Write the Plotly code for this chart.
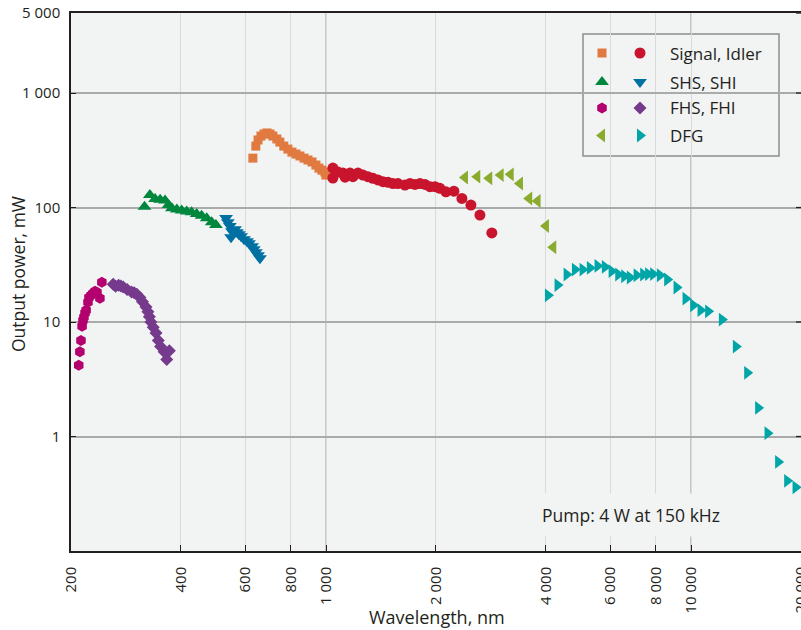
import math
import plotly.graph_objects as go

# ---------------- data (wavelength nm, output power mW) ----------------
fhs_wl = [210, 211.5, 213, 214.5, 215.7, 217, 218.5, 220, 222.6, 224, 227, 229.8, 232.7, 235.6, 240, 243]
fhs_mw = [4.2, 5.5, 6.9, 9.2, 10.3, 11.0, 12.0, 12.7, 14.9, 16.4, 17.1, 17.8, 18.6, 18.2, 16.1, 22.2]

fhi_wl = [261, 265, 270, 274, 278, 285, 293, 298, 303, 309, 314, 321, 325, 328, 331, 336, 342, 347, 352, 360, 366, 372]
fhi_mw = [21.4, 20.5, 20.9, 20.6, 20.2, 19.2, 18.3, 18.0, 17.5, 16.4, 15.0, 13.5, 12.3, 11.1, 10.0, 9.0, 8.0, 6.9, 6.1, 5.5, 4.7, 5.6]

shs_wl = [318, 329, 340, 351, 362, 370, 378, 390, 402, 415, 428, 442, 456, 471, 486, 499]
shs_mw = [101.8, 128.9, 118.9, 117.2, 114.9, 105.4, 98.4, 95.9, 94.0, 92.1, 90.8, 87.9, 84.9, 80.4, 74.2, 70.2]

shi_wl = [532, 538, 545, 552, 549, 563, 570, 577, 585, 596, 607, 615, 627, 634, 642, 651, 659]
shi_mw = [80.8, 74.5, 68.8, 62.2, 55.1, 64.7, 60.9, 58.5, 56.2, 52.9, 50.8, 48.8, 45.9, 43.3, 40.7, 38.3, 36.1]

sig_wl = [630, 642, 651, 663, 676, 689, 702, 715, 733, 747, 766, 786, 806, 827, 848, 870, 892, 915, 938, 956, 974, 993, 999]
sig_mw = [270, 344, 389, 421, 439, 448, 439, 421, 397, 373, 344, 324, 305, 293, 282, 270, 260, 250, 235, 221, 212, 204, 192]

idl_wl = [1044, 1044, 1078, 1112, 1127, 1163, 1185, 1223, 1262, 1302, 1344, 1387, 1432, 1478, 1525, 1574,
          1645, 1698, 1752, 1808, 1866, 1926, 1988, 2051, 2130, 2240, 2356, 2494, 2640, 2846]
idl_mw = [221, 181, 204, 200, 184, 200, 186, 200, 192, 186, 180, 174, 168, 166, 162, 162,
          157, 162, 159, 162, 159, 152, 152, 147, 137, 139, 120, 105, 86, 60]

dfgl_wl = [2402, 2596, 2800, 3008, 3205, 3398, 3602, 3798, 4004, 4193]
dfgl_mw = [183, 186, 180, 192, 195, 162, 120, 114, 69, 45]

dfgr_wl = [4055, 4309, 4562, 4808, 5046, 5284, 5546, 5808, 6060, 6318, 6562, 6801, 7095, 7396, 7631, 7876,
           8218, 8605, 9129, 9662, 10140, 10622, 11143, 12152, 13274, 14255, 15276, 16210, 17330, 18346, 19344]
dfgr_mw = [17.1, 21.0, 26.0, 28.7, 28.7, 29.7, 30.9, 30.3, 27.8, 26.0, 25.1, 24.5, 25.6, 26.0, 26.2, 26.2,
           25.6, 23.5, 20.0, 16.0, 14.0, 12.7, 12.4, 10.5, 6.1, 3.6, 1.78, 1.07, 0.60, 0.41, 0.36]

x_tickvals = [200, 400, 600, 800, 1000, 2000, 4000, 6000, 8000, 10000, 20000]
x_ticktext = ["200", "400", "600", "800", "1 000", "2 000", "4 000", "6 000", "8 000", "10 000", "20 000"]
y_tickvals = [1, 10, 100, 1000, 5000]
y_ticktext = ["1", "10", "100", "1 000", "5 000"]

legend_rows = ["Signal, Idler", "SHS, SHI", "FHS, FHI", "DFG"]

# ---------------- style / layout ----------------
FONT = "Open Sans, Lato, sans-serif"
TXT = "#231f20"
BG = "#f2f3f3"
W, H = 801, 630
PL, PT, PW, PH = 71, 13, 730, 538
XR = [math.log10(200), math.log10(20000) + 0.0004]
YR = [-1, math.log10(5000)]


def fx(px):
    return (px - PL) / PW


def fy(py):
    return (PT + PH - py) / PH


def px_to_x(px):  # legend glyph placement on the log axis
    return 10 ** (XR[0] + fx(px) * (XR[1] - XR[0]))


def py_to_y(py):
    return 10 ** (YR[0] + fy(py) * (YR[1] - YR[0]))


series = [
    (sig_wl, sig_mw, "square", 9, "#e07a40"),
    (idl_wl, idl_mw, "circle", 11, "#c8142c"),
    (shs_wl, shs_mw, "triangle-up", 12, "#00873e"),
    (shi_wl, shi_mw, "triangle-down", 12, "#0070a3"),
    (fhs_wl, fhs_mw, "hexagon", 11, "#b3006e"),
    (fhi_wl, fhi_mw, "diamond", 10, "#763a8d"),
    (dfgl_wl, dfgl_mw, "triangle-left", 12, "#8aab2e"),
    (dfgr_wl, dfgr_mw, "triangle-right", 12, "#00a5a8"),
]

fig = go.Figure()
for wl, mw, sym, sz, col in series:
    fig.add_trace(go.Scatter(x=wl, y=mw, mode="markers",
                             marker=dict(symbol=sym, size=sz, color=col, line=dict(width=0)),
                             showlegend=False))

# legend (drawn manually: two marker columns + text)
LEG_COL_PX = [602, 640]
LEG_ROW_PX = [53, 82, 108, 135.5]
for i, (wl, mw, sym, sz, col) in enumerate(series):
    r, c = divmod(i, 2)
    fig.add_trace(go.Scatter(x=[px_to_x(LEG_COL_PX[c])], y=[py_to_y(LEG_ROW_PX[r])], mode="markers",
                             hoverinfo="skip",
                             marker=dict(symbol=sym, size=sz, color=col, line=dict(width=0)),
                             showlegend=False))

shapes = []
for xv in [1000, 10000]:
    shapes.append(dict(type="line", xref="x", yref="paper", x0=xv, x1=xv, y0=0, y1=1,
                       line=dict(color="#b9bbbb", width=1.6), layer="between"))
shapes.append(dict(type="rect", xref="paper", yref="paper",
                   x0=fx(583), x1=fx(779), y0=fy(156), y1=fy(34),
                   fillcolor=BG, line=dict(color="#8d8d8d", width=1.5), layer="between"))
# right-hand tick marks (the frame's right edge sits at the page edge)
for yv in y_tickvals:
    shapes.append(dict(type="line", xref="paper", yref="y", x0=fx(796), x1=fx(801), y0=yv, y1=yv,
                       line=dict(color=TXT, width=1.3), layer="above"))

annotations = []
for r, label in enumerate(legend_rows):
    annotations.append(dict(text=label, xref="paper", yref="paper", x=fx(668), y=fy(LEG_ROW_PX[r]),
                            xanchor="left", yanchor="middle", showarrow=False,
                            font=dict(family=FONT, size=17, color=TXT)))
annotations.append(dict(text="Pump: 4 W at 150 kHz", xref="paper", yref="paper", x=fx(532), y=fy(515),
                        xanchor="left", yanchor="middle", showarrow=False, bgcolor=BG, borderpad=9,
                        font=dict(family=FONT, size=17.5, color=TXT)))
annotations.append(dict(text="Output power, mW", xref="paper", yref="paper", x=fx(18), y=fy(274),
                        xanchor="center", yanchor="middle", textangle=-90, showarrow=False,
                        font=dict(family=FONT, size=17.5, color=TXT)))
annotations.append(dict(text="Wavelength, nm", xref="paper", yref="paper", x=fx(437), y=fy(617),
                        xanchor="center", yanchor="middle", showarrow=False,
                        font=dict(family=FONT, size=18, color=TXT)))

fig.update_layout(
    width=W, height=H,
    margin=dict(l=PL, r=W - PL - PW, t=PT, b=H - PT - PH, pad=0, autoexpand=False),
    paper_bgcolor="white", plot_bgcolor=BG,
    font=dict(family=FONT, color=TXT, size=15),
    shapes=shapes, annotations=annotations,
    xaxis=dict(type="log", range=XR, automargin=False,
               tickvals=x_tickvals, ticktext=x_ticktext, tickangle=-90,
               ticks="inside", ticklen=6, tickwidth=1.3, tickcolor=TXT,
               showline=True, linecolor=TXT, linewidth=1.5, mirror=True,
               showgrid=True, gridcolor="#d9dbdb", gridwidth=1.4, zeroline=False,
               tickfont=dict(size=15, color=TXT), ticklabelstandoff=8,
               ticklabeloverflow="allow"),
    yaxis=dict(type="log", range=YR, automargin=False,
               tickvals=y_tickvals, ticktext=y_ticktext,
               ticks="inside", ticklen=5, tickwidth=1.3, tickcolor=TXT,
               showline=True, linecolor=TXT, linewidth=1.5, mirror=False,
               showgrid=True, gridcolor="#a9abab", gridwidth=1.6, zeroline=False,
               tickfont=dict(size=15, color=TXT), ticklabelstandoff=6),
)

fig.write_html("out.html")
